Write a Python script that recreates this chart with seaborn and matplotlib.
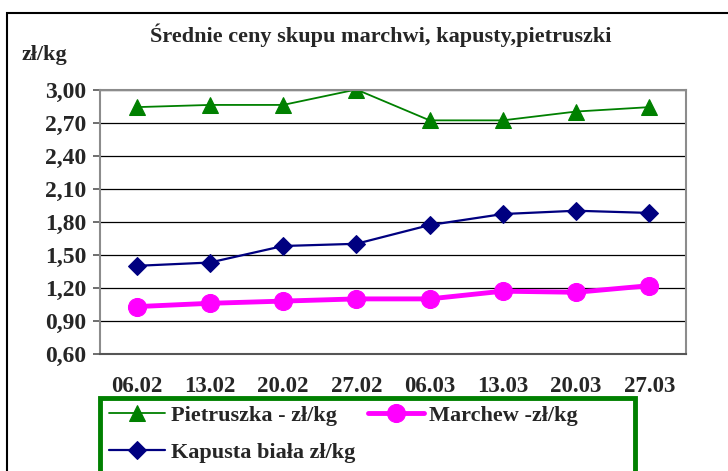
import numpy as np
import pandas as pd
import matplotlib
matplotlib.use("Agg")
import matplotlib.pyplot as plt
from matplotlib.patches import Rectangle
import seaborn as sns

dates = ["06.02", "13.02", "20.02", "27.02", "06.03", "13.03", "20.03", "27.03"]
pietruszka = [2.84, 2.86, 2.86, 3.00, 2.72, 2.72, 2.80, 2.84]
marchew = [1.03, 1.06, 1.08, 1.10, 1.10, 1.17, 1.16, 1.22]
kapusta = [1.40, 1.43, 1.58, 1.60, 1.77, 1.87, 1.90, 1.88]
yticks = [0.60, 0.90, 1.20, 1.50, 1.80, 2.10, 2.40, 2.70, 3.00]

sns.set_style("white")
plt.rcParams["font.family"] = ["Liberation Serif", "DejaVu Serif"]
plt.rcParams["font.weight"] = "bold"

W, H = 728, 471
fig = plt.figure(figsize=(W / 100, H / 100), dpi=100)
ax = fig.add_axes([100 / W, 1 - 354 / H, 586 / W, (354 - 89.5) / H])

pos = np.arange(len(dates))
df = pd.DataFrame({"pos": pos, "Pietruszka": pietruszka,
                   "Marchew": marchew, "Kapusta": kapusta})

# gridlines behind the data
for v in yticks:
    ax.axhline(v, color="black", lw=0.9, zorder=0)

sns.lineplot(data=df, x="pos", y="Pietruszka", ax=ax, color="#008000", lw=1.3,
             marker="^", markersize=12, markeredgecolor="#008000",
             label="Pietruszka - zł/kg", sort=False)
sns.lineplot(data=df, x="pos", y="Kapusta", ax=ax, color="#000080", lw=1.6,
             marker="D", markersize=9, markeredgecolor="#000080",
             label="Kapusta biała zł/kg", sort=False)
sns.lineplot(data=df, x="pos", y="Marchew", ax=ax, color="#FF00FF", lw=3.5,
             marker="o", markersize=13, markeredgecolor="#FF00FF",
             label="Marchew -zł/kg", sort=False)

ax.set_xlim(-0.5, len(dates) - 0.5)
ax.set_ylim(0.6, 3.0)
ax.set_xlabel("")
ax.set_ylabel("")

ax.set_yticks(yticks)
ax.set_yticklabels([f"{v:.2f}".replace(".", ",") for v in yticks])
ax.set_xticks(pos)
ax.set_xticklabels(dates)
ax.set_xticks(np.arange(-0.5, len(dates)), minor=True)
ax.tick_params(axis="x", which="major", length=0, pad=16, labelsize=16.5)
ax.tick_params(axis="x", which="minor", length=6, width=1.2, color="#555555", direction="out")
ax.tick_params(axis="y", length=5, width=1.2, color="#555555", direction="out",
               pad=5, labelsize=17, left=True)
for lab in ax.get_xticklabels() + ax.get_yticklabels():
    lab.set_fontweight("bold")

for side in ["top", "right", "left"]:
    ax.spines[side].set_color("#8c8c8c")
    ax.spines[side].set_linewidth(1.5)
ax.spines["bottom"].set_color("#555555")
ax.spines["bottom"].set_linewidth(1.5)

fig.text(381 / W, 1 - 35 / H, "Średnie ceny skupu marchwi, kapusty,pietruszki",
         ha="center", va="center", fontsize=16, fontweight="bold")
fig.text(22 / W, 1 - 55 / H, "zł/kg", ha="left", va="center",
         fontsize=16, fontweight="bold")

# outer chart border
fig.patches.append(Rectangle((7 / W, -0.1), 1.0, 1 - 13 / H + 0.1,
                             transform=fig.transFigure, fill=False,
                             edgecolor="black", lw=1.5))
# legend frame (runs off the bottom like in the source chart)
fig.patches.append(Rectangle((100 / W, -0.1), 535 / W, 1 - 398 / H + 0.1,
                             transform=fig.transFigure, fill=False,
                             edgecolor="#008000", lw=3.5))

handles, labels = ax.get_legend_handles_labels()
leg = ax.legend(handles, labels, ncol=2, loc="upper left",
                bbox_to_anchor=(105 / W, 1 - 401 / H),
                bbox_transform=fig.transFigure, frameon=False,
                prop={"family": "Liberation Serif", "weight": "bold", "size": 16},
                handlelength=2.5, handletextpad=0.25, borderpad=0.2,
                labelspacing=0.75, columnspacing=0.6, borderaxespad=0)

fig.savefig("out.png", dpi=100)
